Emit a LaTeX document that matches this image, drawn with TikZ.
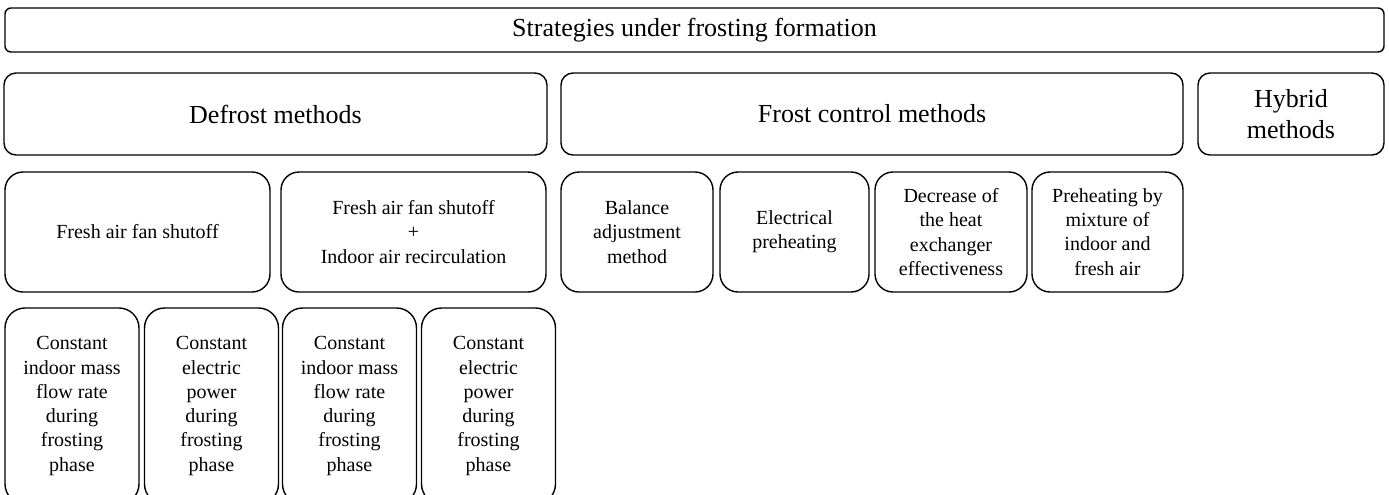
\documentclass[tikz,border=0pt]{standalone}
\usepackage{fontspec}
\setmainfont{Liberation Serif}
\usetikzlibrary{positioning}
\tikzset{
	headbox/.style={draw, line width=0.7pt, rounded corners=6pt, inner sep=0pt, align=center, font=\fontsize{13}{15.8}\selectfont},
	methodbox/.style={draw, line width=0.7pt, rounded corners=9pt, inner sep=0pt, align=center, font=\fontsize{10}{12.15}\selectfont}
}
\newcommand{\flowText}{Constant\\indoor mass\\flow rate\\during\\frosting\\phase}
\newcommand{\powerText}{Constant\\electric\\power\\during\\frosting\\phase}

\begin{document}
\begin{tikzpicture}[x=0.5pt, y=-0.5pt]
	% IMAGE SIZE
	\useasboundingbox (0,0) rectangle (1389,494);
	\clip (0,0) rectangle (1389,494);
	
	% Top level
	\node[headbox, rounded corners=3pt, minimum width=689.5pt, minimum height=22pt] (strategies) at (694.5,30) {Strategies under frosting formation};
	
	% Method groups
	\node[headbox, minimum width=271.5pt, minimum height=41pt] (defrost) at (275.5,114) {Defrost methods};
	\node[headbox, minimum width=311pt, minimum height=41pt] (frostctrl) at (872,114) {Frost control methods};
	\node[headbox, minimum width=93pt, minimum height=41pt] (hybrid) at (1291,114) {Hybrid\\methods};
	
	% Defrost variants
	\node[methodbox, minimum width=132.5pt, minimum height=60pt] (fanoff) at (137.5,232) {Fresh air fan shutoff};
	\node[methodbox, minimum width=132.5pt, minimum height=60pt] (fanrecirc) at (413.5,232) {Fresh air fan shutoff\\+\\Indoor air recirculation};
	
	% Frost control variants
	\node[methodbox, minimum width=76pt, minimum height=60pt] (balance) at (637,232) {Balance\\adjustment\\method};
	\node[methodbox, minimum width=74.5pt, minimum height=60pt] (elecheat) at (794.5,232) {Electrical\\preheating};
	\node[methodbox, minimum width=76pt, minimum height=60pt] (decrease) at (951,232) {Decrease of\\the heat\\exchanger\\effectiveness};
	\node[methodbox, minimum width=75.5pt, minimum height=60pt] (mixture) at (1107.5,232) {Preheating by\\mixture of\\indoor and\\fresh air};
	
	% Operating modes (cut at the bottom)
	\foreach \cx/\name/\txt in {72/flowA/\flowText, 211.5/powerA/\powerText, 349.5/flowB/\flowText, 488.5/powerB/\powerText}
	{
		\node[methodbox, rounded corners=10pt, minimum width=67pt, minimum height=98pt] (\name) at (\cx,406) {\txt};
	}
\end{tikzpicture}
\end{document}
